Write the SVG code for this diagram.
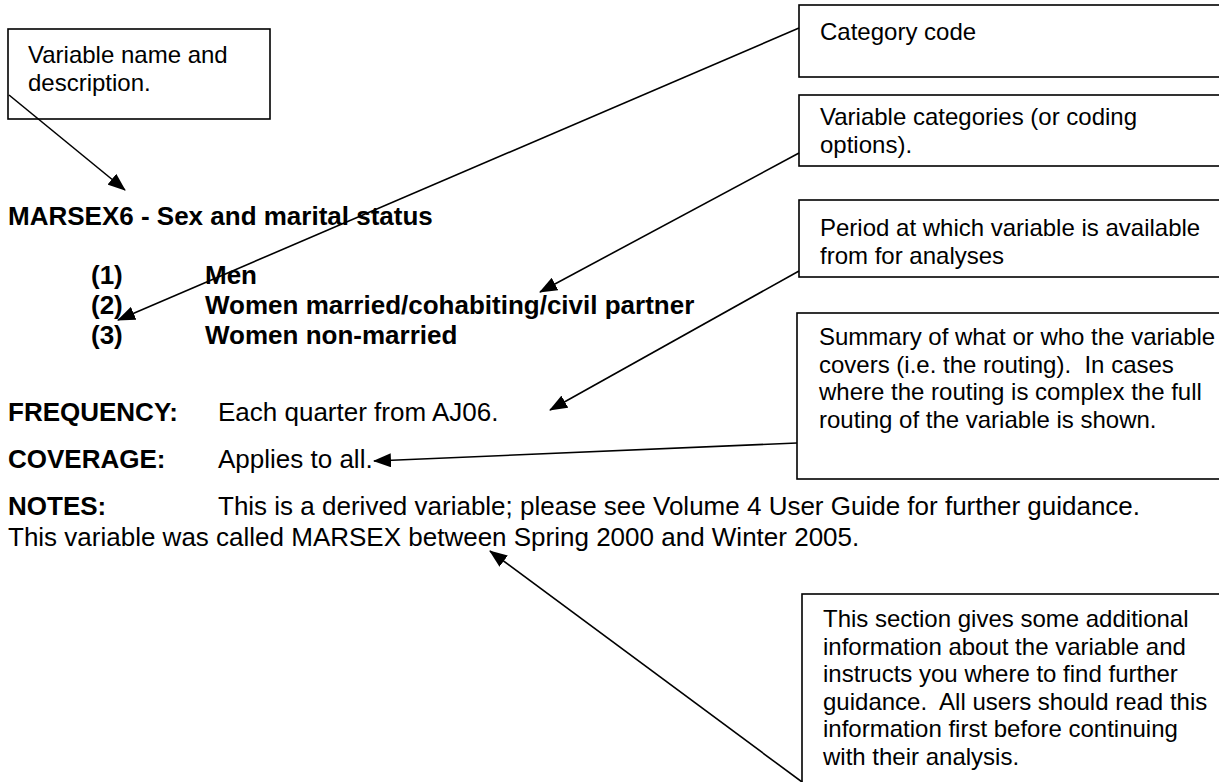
<svg xmlns="http://www.w3.org/2000/svg" width="1219" height="782" viewBox="0 0 1219 782">
<style>
.box{fill:#fff;stroke:#000;stroke-width:1.6}
.c{font-family:"Liberation Sans",Arial,sans-serif;font-size:24px;fill:#000;white-space:pre}
.t{font-family:"Liberation Sans",Arial,sans-serif;font-size:26px;fill:#000;white-space:pre}
.b{font-weight:bold}
.conn{stroke:#000;stroke-width:1.6;fill:none;marker-end:url(#ah)}
</style>
<defs>
<marker id="ah" markerUnits="userSpaceOnUse" markerWidth="18" markerHeight="14" refX="17" refY="7" orient="auto">
<path d="M0,0 L18,7 L0,14 z" fill="#000"/>
</marker>
</defs>
<rect width="1219" height="782" fill="#fff"/>

<g id="box-variable-name">
<rect class="box" x="8" y="29" width="262" height="90"/>
<text class="c" x="28" y="63">Variable name and</text>
<text class="c" x="28" y="90.6">description.</text>
</g>

<g id="box-category-code">
<rect class="box" x="799" y="5" width="440" height="72"/>
<text class="c" x="820" y="40">Category code</text>
</g>

<g id="box-variable-categories">
<rect class="box" x="799" y="95" width="440" height="71"/>
<text class="c" x="820" y="125">Variable categories (or coding</text>
<text class="c" x="820" y="152.6">options).</text>
</g>

<g id="box-period">
<rect class="box" x="799" y="200" width="440" height="77"/>
<text class="c" x="820" y="236">Period at which variable is available</text>
<text class="c" x="820" y="263.6">from for analyses</text>
</g>

<g id="box-summary">
<rect class="box" x="797" y="313" width="440" height="166"/>
<text class="c" x="819" y="345">Summary of what or who the variable</text>
<text class="c" x="819" y="372.6">covers (i.e. the routing).  In cases</text>
<text class="c" x="819" y="400.2">where the routing is complex the full</text>
<text class="c" x="819" y="427.8">routing of the variable is shown.</text>
</g>

<g id="box-notes-info">
<rect class="box" x="802" y="594" width="440" height="200"/>
<text class="c" x="823" y="627">This section gives some additional</text>
<text class="c" x="823" y="654.6">information about the variable and</text>
<text class="c" x="823" y="682.2">instructs you where to find further</text>
<text class="c" x="823" y="709.8">guidance.  All users should read this</text>
<text class="c" x="823" y="737.4">information first before continuing</text>
<text class="c" x="823" y="765">with their analysis.</text>
</g>

<g id="title">
<text class="t b" x="8" y="225">MARSEX6 - Sex and marital status</text>
</g>

<g id="categories">
<text class="t b" x="91" y="284">(1)</text><text class="t b" x="205" y="284">Men</text>
<text class="t b" x="91" y="314">(2)</text><text class="t b" x="205" y="314">Women married/cohabiting/civil partner</text>
<text class="t b" x="91" y="344">(3)</text><text class="t b" x="205" y="344">Women non-married</text>
</g>

<g id="frequency">
<text class="t b" x="8" y="421">FREQUENCY:</text><text class="t" x="218" y="421">Each quarter from AJ06.</text>
</g>

<g id="coverage">
<text class="t b" x="8" y="468">COVERAGE:</text><text class="t" x="218" y="468">Applies to all.</text>
</g>

<g id="notes">
<text class="t b" x="8" y="515">NOTES:</text><text class="t" x="218" y="515">This is a derived variable; please see Volume 4 User Guide for further guidance.</text>
<text class="t" x="8" y="546">This variable was called MARSEX between Spring 2000 and Winter 2005.</text>
</g>

<g id="connectors">
<line class="conn" x1="9" y1="95" x2="125" y2="190"/>
<line class="conn" x1="799" y1="28" x2="118" y2="320"/>
<line class="conn" x1="799" y1="153" x2="540" y2="292"/>
<line class="conn" x1="799" y1="271" x2="550" y2="410"/>
<line class="conn" x1="797" y1="443" x2="374" y2="461"/>
<line class="conn" x1="802" y1="782" x2="490" y2="551"/>
</g>
</svg>
